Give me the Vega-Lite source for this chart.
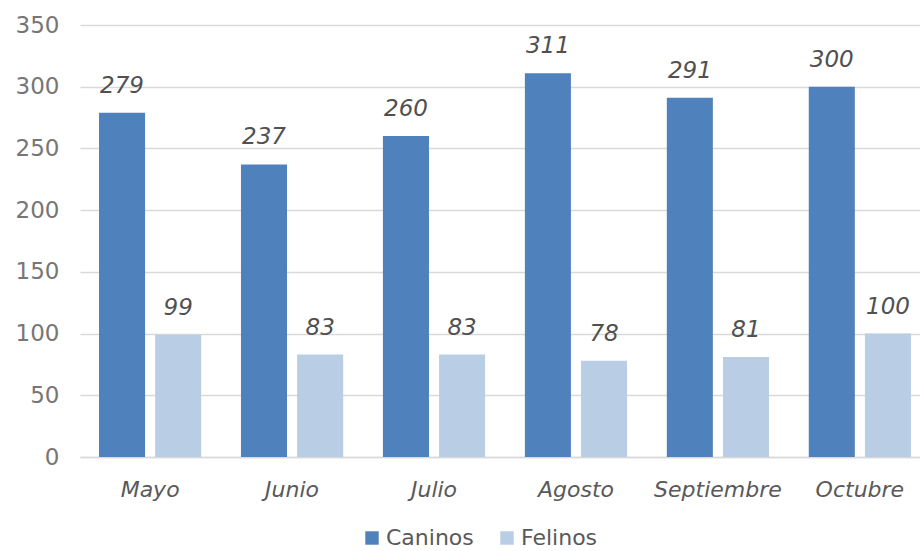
{
  "$schema": "https://vega.github.io/schema/vega-lite/v6.json",
  "autosize": "none",
  "width": 850,
  "height": 432,
  "padding": {"left": 80, "top": 25, "right": 0, "bottom": 94},
  "background": "white",
  "config": {
    "view": {"stroke": null},
    "font": "DejaVu Sans"
  },
  "data": {
    "values": [
      {"mes": "Mayo", "especie": "Caninos", "valor": 279},
      {"mes": "Mayo", "especie": "Felinos", "valor": 99},
      {"mes": "Junio", "especie": "Caninos", "valor": 237},
      {"mes": "Junio", "especie": "Felinos", "valor": 83},
      {"mes": "Julio", "especie": "Caninos", "valor": 260},
      {"mes": "Julio", "especie": "Felinos", "valor": 83},
      {"mes": "Agosto", "especie": "Caninos", "valor": 311},
      {"mes": "Agosto", "especie": "Felinos", "valor": 78},
      {"mes": "Septiembre", "especie": "Caninos", "valor": 291},
      {"mes": "Septiembre", "especie": "Felinos", "valor": 81},
      {"mes": "Octubre", "especie": "Caninos", "valor": 300},
      {"mes": "Octubre", "especie": "Felinos", "valor": 100}
    ]
  },
  "encoding": {
    "x": {
      "field": "mes",
      "type": "nominal",
      "sort": ["Mayo", "Junio", "Julio", "Agosto", "Septiembre", "Octubre"],
      "scale": {"paddingInner": 0.28, "paddingOuter": 0.134},
      "axis": {
        "title": null,
        "labelAngle": 0,
        "labelFontSize": 22,
        "labelFontStyle": "italic",
        "labelColor": "#595959",
        "labelPadding": 22,
        "ticks": false,
        "domainColor": "#D9D9D9",
        "domainWidth": 1.5
      }
    },
    "xOffset": {
      "field": "especie",
      "type": "nominal",
      "scale": {"paddingInner": 0.18}
    },
    "y": {
      "field": "valor",
      "type": "quantitative",
      "scale": {"domain": [0, 350], "nice": false},
      "axis": {
        "title": null,
        "values": [0, 50, 100, 150, 200, 250, 300, 350],
        "labelFontSize": 23,
        "labelColor": "#767676",
        "labelPadding": 21,
        "ticks": false,
        "domain": false,
        "gridColor": "#D9D9D9",
        "gridWidth": 1.5
      }
    }
  },
  "layer": [
    {
      "mark": {"type": "bar"},
      "encoding": {
        "color": {
          "field": "especie",
          "type": "nominal",
          "scale": {"domain": ["Caninos", "Felinos"], "range": ["#4F81BD", "#B9CDE5"]},
          "legend": {
            "title": null,
            "orient": "none",
            "legendX": 281,
            "legendY": 502,
            "direction": "horizontal",
            "symbolType": "square",
            "symbolSize": 180,
            "symbolStrokeWidth": 0,
            "labelFontSize": 22,
            "labelColor": "#595959",
            "columnPadding": 22,
            "labelOffset": 3,
            "padding": 0
          }
        }
      }
    },
    {
      "mark": {
        "type": "text",
        "dy": -27,
        "fontSize": 23,
        "fontStyle": "italic",
        "color": "#505050"
      },
      "encoding": {
        "text": {"field": "valor", "type": "quantitative"}
      }
    }
  ]
}
